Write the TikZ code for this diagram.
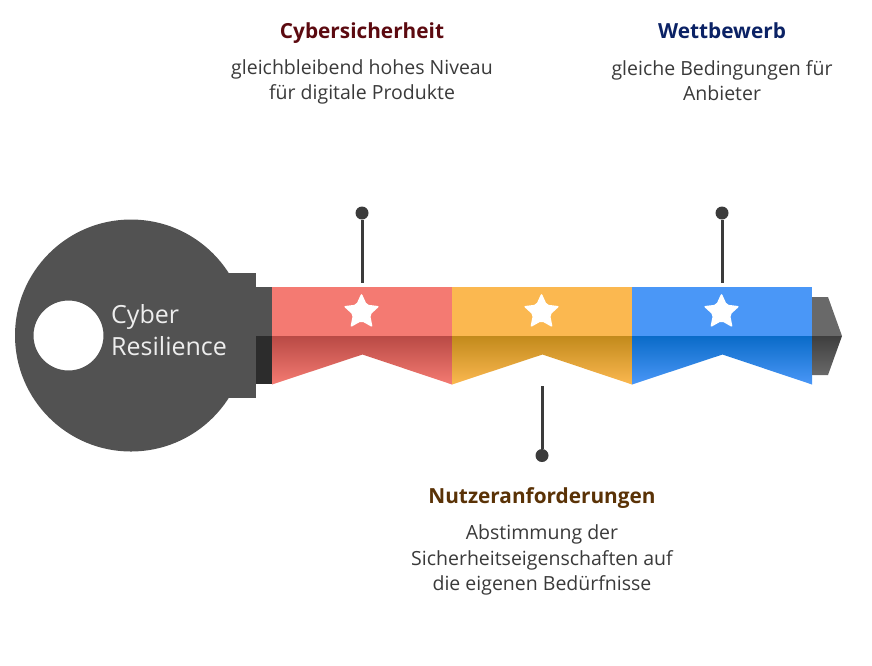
\documentclass[tikz,border=0pt]{standalone}
\usepackage{fontspec}
\setmainfont{Open Sans}
\usetikzlibrary{shapes.geometric}
\definecolor{keygray}{HTML}{525252}
\definecolor{keydark}{HTML}{2C2C2C}
\definecolor{pin}{HTML}{3B3B3B}
\definecolor{redb}{HTML}{F47A72}
\definecolor{redd}{HTML}{B94A45}
\definecolor{orb}{HTML}{FBB850}
\definecolor{ord}{HTML}{C28A1C}
\definecolor{blb}{HTML}{4A97F7}
\definecolor{bld}{HTML}{0A6BC8}
\definecolor{tipb}{HTML}{696969}
\definecolor{tipd}{HTML}{3E3E3E}
\definecolor{t1}{HTML}{5C0A10}
\definecolor{t2}{HTML}{0B2265}
\definecolor{t3}{HTML}{5A3206}
\definecolor{bodyc}{HTML}{3A3A3A}
\tikzset{
  x=1pt,y=-1pt,
  title/.style={font=\fontsize{20.8}{26}\selectfont\bfseries,anchor=center,inner sep=0pt},
  bodytext/.style={font=\fontsize{19.5}{25.6}\selectfont,text=bodyc,align=center,anchor=center,inner sep=0pt},
  dotpin/.style={circle,fill=pin,minimum size=13pt,inner sep=0pt},
  pinline/.style={draw=pin,line width=3pt},
  starmark/.style={star,star points=5,star point ratio=2.1,fill=white,minimum size=38pt,inner sep=0pt,rounded corners=2pt},
}
\newcommand{\ribbon}[3]{%
  \fill[#2] (#1,287) rectangle (#1+180,336.5);
  \shade[bottom color=#2,top color=#3,shading angle=0]
    (#1,336) -- (#1+180,336) -- (#1+180,384.5) -- (#1+90.5,354.5) -- (#1,384.5) -- cycle;
}
\begin{document}
\begin{tikzpicture}
\useasboundingbox (0,0) rectangle (872,665);
% key head
\fill[keygray,even odd rule] (131,335.5) circle[radius=116] (68.5,335.5) circle[radius=35];
\fill[keygray] (200,273) rectangle (255.7,398);
\fill[keygray] (255,287) rectangle (272,336);
\fill[keydark] (255.7,336) rectangle (272,384);
% ribbons
\ribbon{272}{redb}{redd}
\ribbon{452}{orb}{ord}
\ribbon{632}{blb}{bld}
% tip
\fill[tipb] (812,297) -- (828,297) -- (842,336) -- (812,336) -- cycle;
\shade[bottom color=tipb,top color=tipd,shading angle=0] (812,336) -- (842,336) -- (828,375) -- (812,375) -- cycle;
% stars
\node[starmark] (s1) at (361.5,312) {};
\node[starmark] (s2) at (541.5,312) {};
\node[starmark] (s3) at (721.5,312) {};
% pins
\node[dotpin] (p1) at (362,213) {};
\node[dotpin] (p2) at (722,213) {};
\node[dotpin] (p3) at (542,455.5) {};
\coordinate (e1) at (362,283);
\coordinate (e2) at (722,283);
\coordinate (e3) at (542,386);
\draw[pinline] (p1) -- (e1);
\draw[pinline] (p2) -- (e2);
\draw[pinline] (p3) -- (e3);
% texts
\node[anchor=west,inner sep=0pt,align=left,text=white!93!black,font=\fontsize{25}{32}\selectfont] (k) at (111,330) {Cyber\\Resilience};
\node[title,text=t1] (h1) at (362,33) {Cybersicherheit};
\node[title,text=t2] (h2) at (722,31) {Wettbewerb};
\node[title,text=t3] (h3) at (542,498.5) {Nutzeranforderungen};
\node[bodytext] (b1) at (362,82) {gleichbleibend hohes Niveau\\für digitale Produkte};
\node[bodytext] (b2) at (722,80.5) {gleiche Bedingungen für\\Anbieter};
\node[bodytext] (b3) at (542,560) {Abstimmung der\\Sicherheitseigenschaften auf\\die eigenen Bedürfnisse};
\end{tikzpicture}
\end{document}
